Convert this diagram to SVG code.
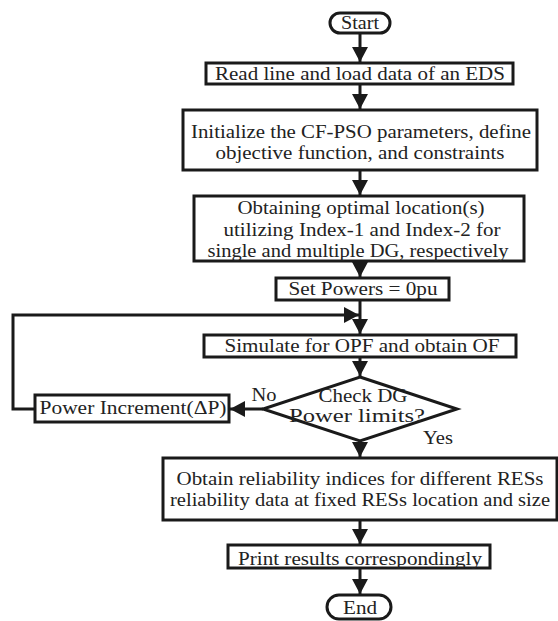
<svg xmlns="http://www.w3.org/2000/svg" width="558" height="621" viewBox="0 0 558 621">
<defs>
<marker id="ah" markerUnits="userSpaceOnUse" markerWidth="16" markerHeight="16" viewBox="0 0 16 16" refX="15" refY="8" orient="auto">
<path d="M0,0 L15,8 L0,16 Z" fill="#1a1a1a"/>
</marker>
<style>
.box{fill:#fff;stroke:#1a1a1a;stroke-width:3}
.ln{fill:none;stroke:#1a1a1a;stroke-width:3}
.t{font-family:"Liberation Serif","Times New Roman",serif;font-size:18px;fill:#222;text-anchor:middle}
</style>
</defs>
<rect width="558" height="621" fill="#fff"/>
<g id="connectors">
<line class="ln" x1="360" y1="33" x2="360" y2="62" marker-end="url(#ah)"/>
<line class="ln" x1="360" y1="84" x2="360" y2="109" marker-end="url(#ah)"/>
<line class="ln" x1="360" y1="170" x2="360" y2="195" marker-end="url(#ah)"/>
<line class="ln" x1="360" y1="261" x2="360" y2="277" marker-end="url(#ah)"/>
<line class="ln" x1="360" y1="300" x2="360" y2="334" marker-end="url(#ah)"/>
<line class="ln" x1="360" y1="357" x2="360" y2="376" marker-end="url(#ah)"/>
<line class="ln" x1="360" y1="441" x2="360" y2="457" marker-end="url(#ah)"/>
<line class="ln" x1="360" y1="520" x2="360" y2="544" marker-end="url(#ah)"/>
<line class="ln" x1="360" y1="568" x2="360" y2="594" marker-end="url(#ah)"/>
<polyline class="ln" points="35,409 13,409 13,315 359,315" marker-end="url(#ah)"/>
<line class="ln" x1="263" y1="409" x2="230" y2="409" marker-end="url(#ah)"/>
</g>
<g id="start">
<rect class="box" x="330" y="13" width="60" height="20" rx="10"/>
<text class="t" x="360" y="29" textLength="38" lengthAdjust="spacingAndGlyphs">Start</text>
</g>
<g id="read">
<rect class="box" x="206" y="63" width="307" height="21"/>
<text class="t" x="360" y="80" textLength="290" lengthAdjust="spacingAndGlyphs">Read line and load data of an EDS</text>
</g>
<g id="init">
<rect class="box" x="183" y="110" width="354" height="60"/>
<text class="t" x="361" y="138" textLength="340" lengthAdjust="spacingAndGlyphs">Initialize the CF-PSO parameters, define</text>
<text class="t" x="360" y="159" textLength="289" lengthAdjust="spacingAndGlyphs">objective function, and constraints</text>
</g>
<g id="obtain">
<rect class="box" x="194" y="196" width="330" height="65"/>
<text class="t" x="361" y="214" textLength="247" lengthAdjust="spacingAndGlyphs">Obtaining optimal location(s)</text>
<text class="t" x="362" y="236" textLength="277" lengthAdjust="spacingAndGlyphs">utilizing Index-1 and Index-2 for</text>
<text class="t" x="358" y="257" textLength="301" lengthAdjust="spacingAndGlyphs">single and multiple DG, respectively</text>
</g>
<g id="setpowers">
<rect class="box" x="276" y="278" width="173" height="22"/>
<text class="t" x="363" y="295" textLength="149" lengthAdjust="spacingAndGlyphs">Set Powers = 0pu</text>
</g>
<g id="simulate">
<rect class="box" x="204" y="335" width="312" height="22"/>
<text class="t" x="362" y="352" textLength="275" lengthAdjust="spacingAndGlyphs">Simulate for OPF and obtain OF</text>
</g>
<g id="check">
<polygon class="box" points="360,377 457,409 360,441 263,409"/>
<text class="t" x="363" y="402" textLength="89" lengthAdjust="spacingAndGlyphs">Check DG</text>
<text class="t" x="357" y="422" textLength="136" lengthAdjust="spacingAndGlyphs">Power limits?</text>
</g>
<g id="increment">
<rect class="box" x="35" y="395" width="194" height="27"/>
<text class="t" x="133" y="414" textLength="187" lengthAdjust="spacingAndGlyphs">Power Increment(ΔP)</text>
</g>
<g id="labels">
<text class="t" x="264" y="401" textLength="25" lengthAdjust="spacingAndGlyphs">No</text>
<text class="t" x="438" y="444" textLength="30" lengthAdjust="spacingAndGlyphs">Yes</text>
</g>
<g id="reliability">
<rect class="box" x="163" y="458" width="394" height="62"/>
<text class="t" x="360" y="485" textLength="367" lengthAdjust="spacingAndGlyphs">Obtain reliability indices for different RESs</text>
<text class="t" x="360" y="506" textLength="380" lengthAdjust="spacingAndGlyphs">reliability data at fixed RESs location and size</text>
</g>
<g id="print">
<rect class="box" x="228" y="545" width="262" height="23"/>
<text class="t" x="360" y="565" textLength="244" lengthAdjust="spacingAndGlyphs">Print results correspondingly</text>
</g>
<g id="end">
<rect class="box" x="327" y="595" width="64" height="24" rx="12"/>
<text class="t" x="360" y="614" textLength="34" lengthAdjust="spacingAndGlyphs">End</text>
</g>
</svg>
